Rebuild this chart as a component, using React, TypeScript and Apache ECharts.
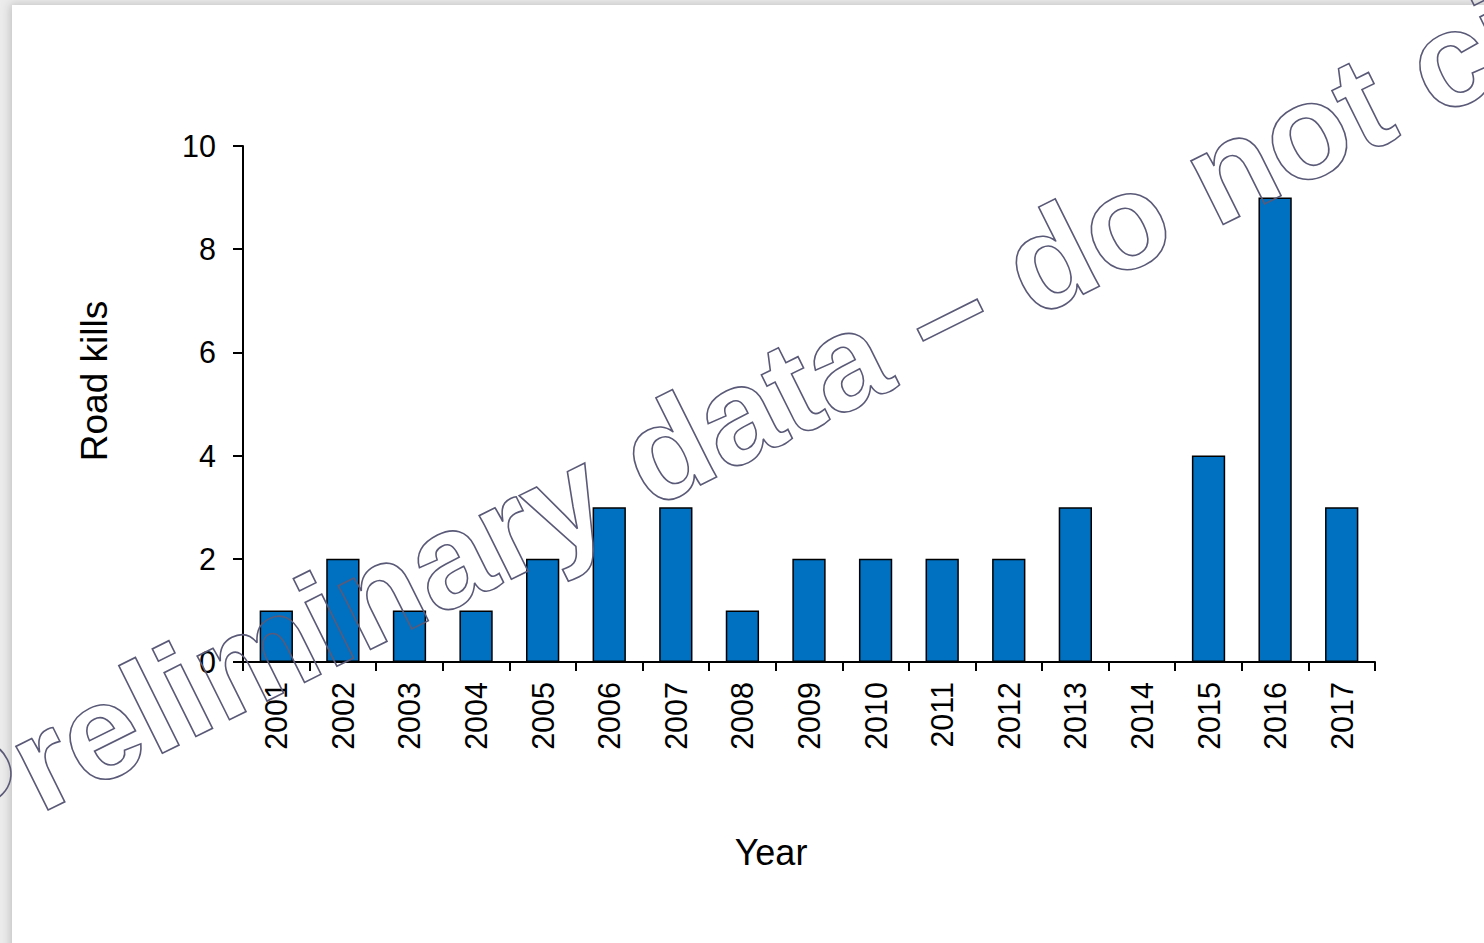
import React, { useEffect, useRef } from "react";
import * as echarts from "echarts";

const years = ["2001","2002","2003","2004","2005","2006","2007","2008","2009","2010","2011","2012","2013","2014","2015","2016","2017"];
const roadKills = [1, 2, 1, 1, 2, 3, 3, 1, 2, 2, 2, 2, 3, 0, 4, 9, 3];
const yTicks = { min: 0, max: 10, interval: 2 };
const xTitle = "Year";
const yTitle = "Road kills";
const watermark = "Preliminary data \u2013 do not cite";

const FONT = "'Liberation Sans', Arial, sans-serif";

export default function App() {
  const ref = useRef<HTMLDivElement>(null);
  useEffect(() => {
    if (!ref.current) return;
    const chart = echarts.init(ref.current, null, { renderer: "svg" });
    chart.setOption({
      animation: false,
      backgroundColor: "#ececec",
      grid: { left: 243, right: 109, top: 146, bottom: 281, containLabel: false },
      xAxis: {
        type: "category",
        data: years,
        name: xTitle,
        nameLocation: "middle",
        nameGap: 172,
        nameTextStyle: { fontSize: 36, color: "#000", fontFamily: FONT, padding: [0, 76, 0, 0] },
        axisLine: { show: true, lineStyle: { color: "#000", width: 2 } },
        axisTick: { show: true, length: 9, lineStyle: { color: "#000", width: 2 } },
        axisLabel: { rotate: 90, fontSize: 30.5, color: "#000", fontFamily: FONT, margin: 20 },
        splitLine: { show: false },
      },
      yAxis: {
        type: "value",
        min: yTicks.min,
        max: yTicks.max,
        interval: yTicks.interval,
        name: yTitle,
        nameLocation: "middle",
        nameGap: 130,
        nameTextStyle: { fontSize: 37, color: "#000", fontFamily: FONT, padding: [0, 0, 0, 46] },
        axisLine: { show: true, lineStyle: { color: "#000", width: 2 } },
        axisTick: { show: true, length: 10, lineStyle: { color: "#000", width: 2 } },
        axisLabel: { fontSize: 30.5, color: "#000", fontFamily: FONT, margin: 27 },
        splitLine: { show: false },
      },
      series: [
        {
          type: "bar",
          data: roadKills,
          barCategoryGap: "50%",
          itemStyle: { color: "#0070C0", borderColor: "#000", borderWidth: 1.5 },
          z: 2,
        },
      ],
      graphic: [
        {
          type: "rect",
          z: -10,
          silent: true,
          shape: { x: 12, y: 5, width: 1600, height: 1100 },
          style: { fill: "#ffffff", shadowBlur: 10, shadowColor: "rgba(0,0,0,0.18)", shadowOffsetX: -2, shadowOffsetY: -1 },
        },
        {
          type: "text",
          z: 100,
          silent: true,
          x: 781,
          y: 393,
          rotation: (26.5 * Math.PI) / 180,
          style: {
            text: watermark,
            font: `bold 135px ${FONT}`,
            align: "center",
            verticalAlign: "middle",
            fill: "rgba(255,255,255,0)",
            stroke: "#5a5a78",
            lineWidth: 1.6,
            shadowBlur: 5,
            shadowColor: "rgba(0,0,0,0.3)",
            shadowOffsetX: 3,
            shadowOffsetY: 3,
          },
        },
      ],
    });
    return () => chart.dispose();
  }, []);
  return <div ref={ref} style={{ position: "absolute", left: 0, top: 0, width: 1484, height: 943 }} />;
}
